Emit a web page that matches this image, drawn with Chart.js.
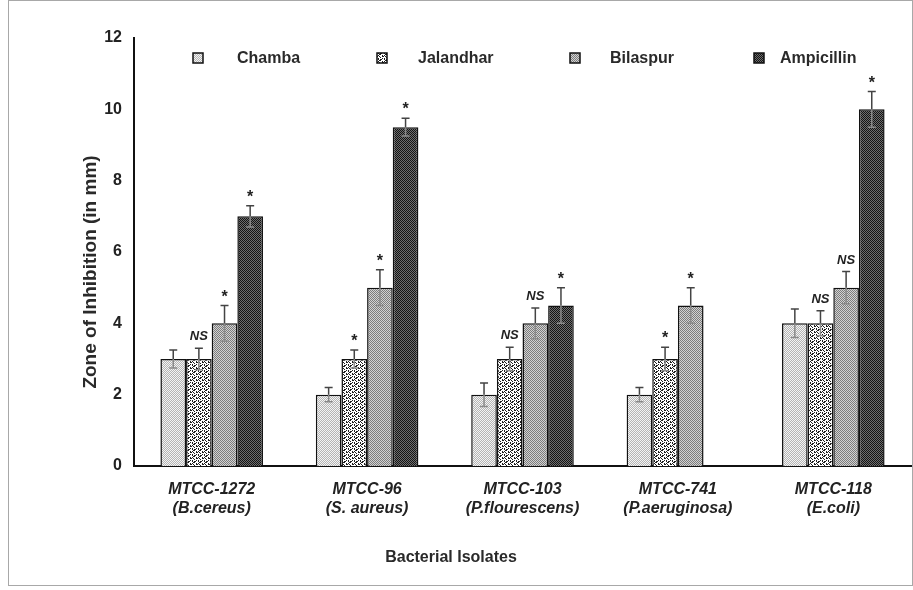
<!DOCTYPE html>
<html>
<head>
<meta charset="utf-8">
<script src="https://cdn.jsdelivr.net/npm/chart.js@4.4.1/dist/chart.umd.min.js"></script>
<style>
    html, body { margin: 0; padding: 0; background: #fff; }
    #wrap { width: 913px; height: 590px; }
</style>
</head>
<body>
<div id="wrap"><canvas id="chart" width="913" height="590"></canvas></div>
<script>
// Data
const isolates = [
    ['MTCC-1272', '(B.cereus)'],
    ['MTCC-96', '(S. aureus)'],
    ['MTCC-103', '(P.flourescens)'],
    ['MTCC-741', '(P.aeruginosa)'],
    ['MTCC-118', '(E.coli)']
];
const seriesNames = ['Chamba', 'Jalandhar', 'Bilaspur', 'Ampicillin'];

const chamba     = [3, 2, 2, 2, 4];
const jalandhar  = [3, 3, 3, 3, 4];
const bilaspur   = [4, 5, 4, 4.5, 5];
const ampicillin = [7, 9.5, 4.5, null, 10];

// error bar (+/-)
const chambaErr     = [0.25, 0.2, 0.33, 0.2, 0.4];
const jalandharErr  = [0.3, 0.25, 0.33, 0.33, 0.35];
const bilaspurErr   = [0.5, 0.5, 0.43, 0.5, 0.45];
const ampicillinErr = [0.3, 0.25, 0.5, null, 0.5];

// tanda signifikansi di atas tiap batang
const chambaSig     = ['', '', '', '', ''];
const jalandharSig  = ['NS', '*', 'NS', '*', 'NS'];
const bilaspurSig   = ['*', '*', 'NS', '*', 'NS'];
const ampicillinSig = ['*', '*', '*', '', '*'];

const yTicks = [0, 2, 4, 6, 8, 10, 12];

// Fungsi untuk membuat pola arsiran dari baris teks
function makePattern(rows, colors) {
    const c = document.createElement('canvas');
    c.width = rows[0].length;
    c.height = rows.length;
    const g = c.getContext('2d');
    rows.forEach((row, y) => {
        for (let x = 0; x < row.length; x++) {
            g.fillStyle = colors[row[x]];
            g.fillRect(x, y, 1, 1);
        }
    });
    return g.createPattern(c, 'repeat');
}

const patChamba = makePattern(['ab', 'ba'], { a: '#f4f4f4', b: '#b4b4b4' });
const patJalandhar = makePattern([
    '.XX...',
    'X...X.',
    '.X..XX',
    '..X...',
    'X...X.',
    'X.XX..'
], { '.': '#ffffff', 'X': '#1e1e1e' });
const patBilaspur = makePattern(['ab', 'ba'], { a: '#7c7c7c', b: '#d2d2d2' });
const patAmpicillin = makePattern(['ab', 'ba'], { a: '#141414', b: '#6e6e6e' });

const patterns = [patChamba, patJalandhar, patBilaspur, patAmpicillin];
const errors = [chambaErr, jalandharErr, bilaspurErr, ampicillinErr];
const sigs = [chambaSig, jalandharSig, bilaspurSig, ampicillinSig];

// Plugin: bingkai, legenda, judul sumbu, error bar, tanda
const extras = {
    id: 'extras',
    beforeDraw(chart) {
        const ctx = chart.ctx;
        ctx.save();
        ctx.fillStyle = '#fff';
        ctx.fillRect(0, 0, chart.width, chart.height);
        ctx.strokeStyle = '#a8a8a8';
        ctx.lineWidth = 1;
        ctx.strokeRect(8.5, 0.5, chart.width - 9, 585);
        ctx.restore();
    },
    afterDatasetsDraw(chart) {
        const ctx = chart.ctx;
        const y = chart.scales.y;
        ctx.save();
        chart.data.datasets.forEach((ds, i) => {
            const meta = chart.getDatasetMeta(i);
            ds.data.forEach((v, j) => {
                if (v === null) return;
                const bar = meta.data[j];
                const e = errors[i][j];
                const yTop = y.getPixelForValue(v + e);
                const yBot = y.getPixelForValue(v - e);
                const yVal = y.getPixelForValue(v);
                // bagian bawah (di dalam batang) lebih pucat
                ctx.lineWidth = 1.5;
                ctx.strokeStyle = '#8a8a8a';
                ctx.beginPath();
                ctx.moveTo(bar.x, yVal);
                ctx.lineTo(bar.x, yBot);
                ctx.moveTo(bar.x - 4, yBot);
                ctx.lineTo(bar.x + 4, yBot);
                ctx.stroke();
                ctx.strokeStyle = '#444';
                ctx.beginPath();
                ctx.moveTo(bar.x, yVal);
                ctx.lineTo(bar.x, yTop);
                ctx.moveTo(bar.x - 4, yTop);
                ctx.lineTo(bar.x + 4, yTop);
                ctx.stroke();
                // tanda signifikansi
                const s = sigs[i][j];
                if (s) {
                    ctx.fillStyle = '#222';
                    ctx.textAlign = 'center';
                    ctx.textBaseline = 'alphabetic';
                    if (s === '*') {
                        ctx.font = 'bold 16px "Liberation Sans", Arial, sans-serif';
                        ctx.fillText(s, bar.x, yTop - 4);
                    } else {
                        ctx.font = 'italic bold 13px "Liberation Sans", Arial, sans-serif';
                        ctx.fillText(s, bar.x, yTop - 8);
                    }
                }
            });
        });
        ctx.restore();
    },
    afterDraw(chart) {
        const ctx = chart.ctx;
        ctx.save();
        // legenda
        const boxX = [198, 382, 575, 759];
        const textX = [237, 418, 610, 780];
        const ly = 58;
        ctx.font = 'bold 16px "Liberation Sans", Arial, sans-serif';
        ctx.textBaseline = 'middle';
        ctx.textAlign = 'left';
        seriesNames.forEach((name, i) => {
            ctx.fillStyle = patterns[i];
            ctx.fillRect(boxX[i] - 5, ly - 5, 10, 10);
            ctx.strokeStyle = '#111';
            ctx.lineWidth = 1.5;
            ctx.strokeRect(boxX[i] - 5, ly - 5, 10, 10);
            ctx.fillStyle = '#2a2a2a';
            ctx.fillText(name, textX[i], ly + 1);
        });
        // judul sumbu
        ctx.fillStyle = '#2a2a2a';
        ctx.textAlign = 'center';
        ctx.font = 'bold 16px "Liberation Sans", Arial, sans-serif';
        ctx.fillText('Bacterial Isolates', 451, 558);
        ctx.translate(91, 272);
        ctx.rotate(-Math.PI / 2);
        ctx.font = 'bold 19px "Liberation Sans", Arial, sans-serif';
        ctx.fillText('Zone of Inhibition (in mm)', 0, 0);
        ctx.restore();
    }
};

const datasets = [chamba, jalandhar, bilaspur, ampicillin].map((d, i) => ({
    label: seriesNames[i],
    data: d,
    backgroundColor: patterns[i],
    borderColor: '#111',
    borderWidth: 1.5,
    borderSkipped: 'bottom'
}));

new Chart(document.getElementById('chart'), {
    type: 'bar',
    data: { labels: isolates, datasets },
    plugins: [extras],
    options: {
        responsive: false,
        animation: false,
        layout: { padding: { top: 38, right: 2, bottom: 0, left: 0 } },
        datasets: { bar: { categoryPercentage: 0.66, barPercentage: 1.0 } },
        plugins: { legend: { display: false }, tooltip: { enabled: false } },
        scales: {
            x: {
                grid: { display: false },
                border: { display: true, color: '#111', width: 2 },
                ticks: {
                    color: '#222',
                    padding: 6,
                    maxRotation: 0,
                    font: { family: '"Liberation Sans", Arial, sans-serif', size: 16, weight: 'bold', style: 'italic', lineHeight: 1.2 }
                },
                afterFit(scale) { scale.height = 124; }
            },
            y: {
                min: 0,
                max: 12,
                grid: { display: false },
                border: { display: true, color: '#111', width: 2 },
                afterBuildTicks(scale) { scale.ticks = yTicks.map(v => ({ value: v })); },
                ticks: {
                    color: '#222',
                    padding: 4,
                    font: { family: '"Liberation Sans", Arial, sans-serif', size: 16, weight: 'bold' }
                },
                afterFit(scale) { scale.width = 134; }
            }
        }
    }
});
</script>
</body>
</html>
